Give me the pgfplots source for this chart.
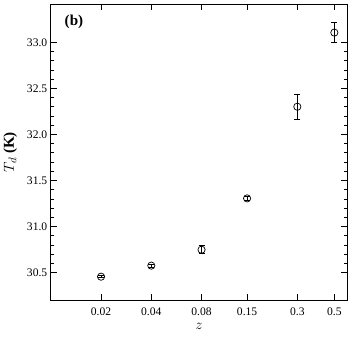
\documentclass[border=0pt]{standalone}
\usepackage{pgfplots}
\pgfplotsset{compat=1.18}
\usepackage{fontspec}
\setmainfont{Liberation Serif}

\pgfplotstableread{
z    T      err
0.02 30.455 0.012
0.04 30.575 0.015
0.08 30.748 0.045
0.15 31.305 0.025
0.30 32.300 0.135
0.50 33.105 0.110
}\tdata

\begin{document}
\begin{tikzpicture}
\begin{axis}[
    scale only axis,
    width=294pt, height=294pt,
    xmode=log,
    xmin=0.01, xmax=0.595,
    ymin=30.2, ymax=33.415,
    xtick={0.02,0.04,0.08,0.15,0.3,0.5},
    xticklabels={0.02,0.04,0.08,0.15,0.3,0.5},
    minor xtick={},
    ytick={30.5,31,31.5,32,32.5,33},
    yticklabel style={/pgf/number format/.cd,fixed,fixed zerofill,precision=1},
    minor y tick num=4,
    tick align=inside,
    major tick length=6pt,
    minor tick length=3pt,
    tick style={black, line width=0.6pt},
    axis line style={line width=0.8pt},
    tick label style={font=\fontsize{11.5}{13}\selectfont},
    xticklabel style={yshift=-4pt},
    /pgf/number format/assume math mode=true,
    xlabel={$z$},
    ylabel={$T_d$ \textbf{(K)}},
    label style={font=\fontsize{15}{17}\selectfont},
    xlabel style={yshift=-1pt},
    ylabel style={yshift=3pt},
]
\addplot[black, only marks, mark=o, mark size=3.6pt, line width=0.7pt,
    error bars/.cd, y dir=both, y explicit,
    error bar style={line width=1pt},
    error mark options={rotate=90, mark size=3pt, line width=0.8pt}]
    table[x=z, y=T, y error=err] {\tdata};
\node[anchor=north west, font=\fontsize{15}{17}\selectfont\bfseries] at (rel axis cs:0.035,0.975) {(b)};
\end{axis}
\path (current axis.north east) ++(5pt,4pt) coordinate (pad);
\path (current axis.south) ++(0,-41pt) coordinate (padb);
\end{tikzpicture}
\end{document}
